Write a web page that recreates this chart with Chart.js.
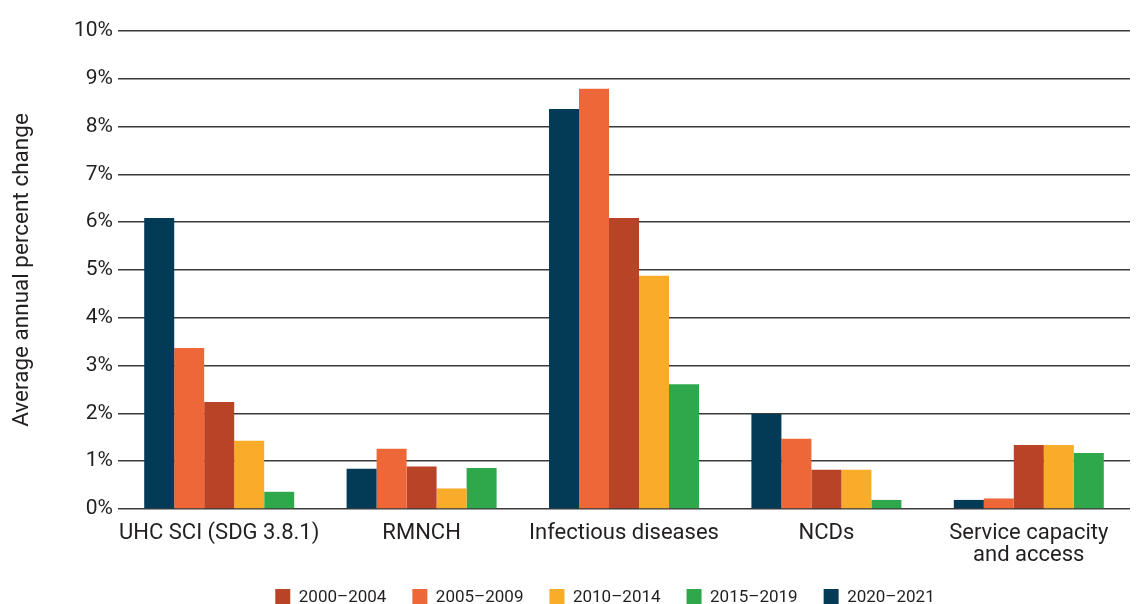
<!DOCTYPE html>
<html>
<head>
<meta charset="utf-8">
<script src="https://cdn.jsdelivr.net/npm/chart.js@4"></script>
<style>
  html, body { margin: 0; padding: 0; background: #fff; }
  #wrap { width: 1139px; height: 604px; position: relative; }
</style>
</head>
<body>
<div id="wrap"><canvas id="coverageChart"></canvas></div>
<script>
// Categories and tick labels
const categories = ['UHC SCI (SDG 3.8.1)', 'RMNCH', 'Infectious diseases', 'NCDs', ['Service capacity', 'and access']];
const yTicks = [0, 1, 2, 3, 4, 5, 6, 7, 8, 9, 10];

// Average annual percent change, per period
const p2000_2004 = [2.24, 0.89, 6.09, 0.82, 1.34];
const p2005_2009 = [3.37, 1.26, 8.79, 1.47, 0.22];
const p2010_2014 = [1.43, 0.43, 4.88, 0.82, 1.34];
const p2015_2019 = [0.36, 0.86, 2.61, 0.19, 1.17];
const p2020_2021 = [6.09, 0.84, 8.37, 1.99, 0.19];

const FONT = 'Roboto, "Noto Sans", sans-serif';
const TEXT = '#231f20';

// Bars sit in this order inside each group; legend is sorted by period
const datasets = [
    { label: '2020–2021', data: p2020_2021, backgroundColor: '#033a56', legendOrder: 4 },
    { label: '2005–2009', data: p2005_2009, backgroundColor: '#ee6739', legendOrder: 1 },
    { label: '2000–2004', data: p2000_2004, backgroundColor: '#b94327', legendOrder: 0 },
    { label: '2010–2014', data: p2010_2014, backgroundColor: '#f9ac2a', legendOrder: 2 },
    { label: '2015–2019', data: p2015_2019, backgroundColor: '#2ea84a', legendOrder: 3 }
];

// legend in the original sits a bit right of the page centre
const legendShift = {
    id: 'legendShift',
    afterLayout(chart) {
        if (chart.legend) {
            chart.legend.left += 40;
            chart.legend.right += 40;
        }
    }
};

new Chart(document.getElementById('coverageChart'), {
    type: 'bar',
    data: { labels: categories, datasets: datasets },
    plugins: [legendShift],
    options: {
        responsive: true,
        maintainAspectRatio: false,
        animation: false,
        datasets: {
            bar: { categoryPercentage: 0.741, barPercentage: 1.0, borderWidth: 0 }
        },
        layout: { padding: { top: 31, right: 9, bottom: -12, left: 0 } },
        plugins: {
            tooltip: { enabled: false },
            legend: {
                position: 'bottom',
                labels: {
                    font: { family: FONT, size: 17 },
                    color: TEXT,
                    boxWidth: 15,
                    boxHeight: 17,
                    padding: 26,
                    sort: (a, b) => datasets[a.datasetIndex].legendOrder - datasets[b.datasetIndex].legendOrder
                }
            }
        },
        scales: {
            x: {
                grid: { display: false },
                border: { display: false },
                afterFit: (scale) => { scale.height = 54; },
                ticks: {
                    font: { family: FONT, size: 22, lineHeight: 0.97 },
                    color: TEXT,
                    padding: 6,
                    maxRotation: 0,
                    autoSkip: false
                }
            },
            y: {
                min: 0,
                max: 10,
                afterBuildTicks: (scale) => { scale.ticks = yTicks.map(v => ({ value: v })); },
                afterFit: (scale) => { scale.width = 118; },
                border: { display: false },
                grid: { color: '#3a3a3a', lineWidth: 1.5, drawTicks: false },
                ticks: {
                    font: { family: FONT, size: 21 },
                    color: TEXT,
                    padding: 5,
                    callback: (v) => v + '%'
                },
                title: {
                    display: true,
                    text: 'Average annual percent change',
                    font: { family: FONT, size: 22.5 },
                    color: TEXT,
                    padding: { top: 9, bottom: 0 }
                }
            }
        }
    }
});
</script>
</body>
</html>
